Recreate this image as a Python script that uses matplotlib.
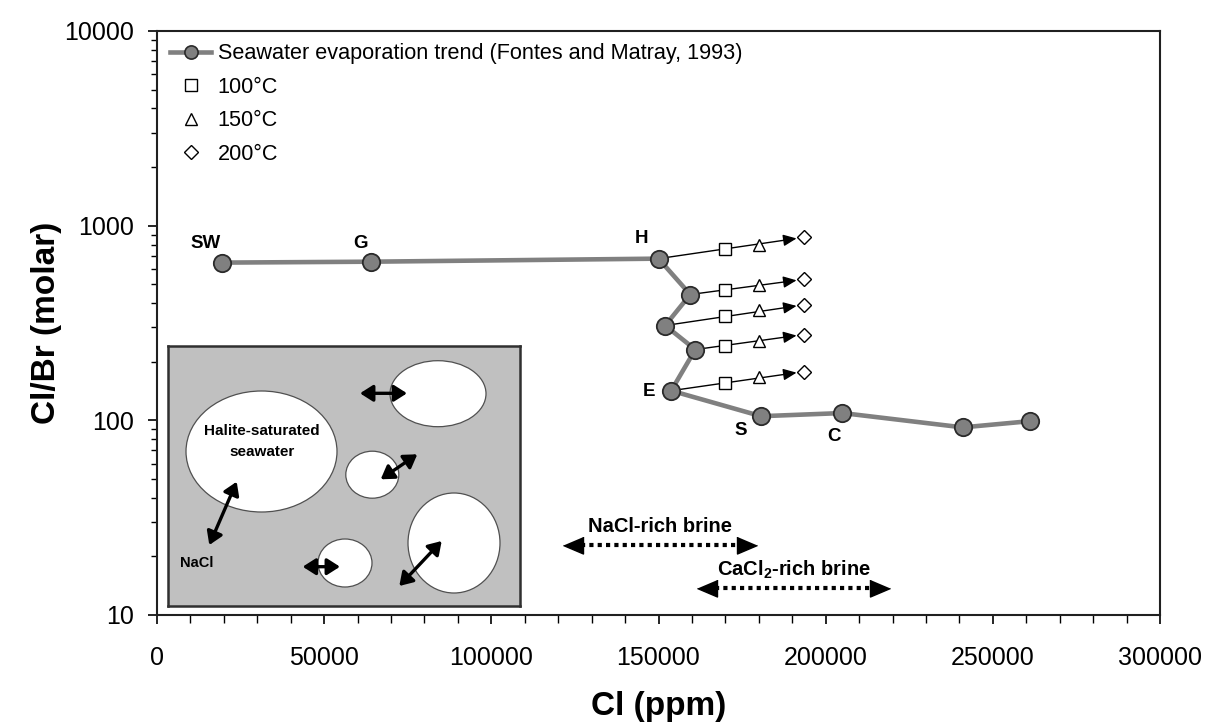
import numpy as np
import matplotlib
matplotlib.use("Agg")
import matplotlib.pyplot as plt
from matplotlib.patches import Ellipse
from matplotlib.lines import Line2D

plt.rcParams['font.family'] = ['Liberation Sans', 'DejaVu Sans']
plt.rcParams['mathtext.fontset'] = 'custom'
plt.rcParams['mathtext.rm'] = 'Liberation Sans'
plt.rcParams['mathtext.bf'] = 'Liberation Sans:bold'

# seawater evaporation trend (Fontes and Matray, 1993)
sw_cl = [19400, 64000, 150000, 159500, 152000, 161000, 153800, 180700, 205000, 241000, 261000]
sw_clbr = [646, 653, 677, 443, 307, 231, 142, 105, 109, 92, 99]
sw_label = "Seawater evaporation trend (Fontes and Matray, 1993)"

# stage labels and where they sit
stage_names = ["SW", "G", "H", "E", "S", "C"]
stage_cl = [14400, 61000, 145000, 147200, 174700, 202500]
stage_clbr = [809, 809, 857, 140, 89, 83]

# temperature-corrected ratios, starting from trend points 2..6
start_idx = [2, 3, 4, 5, 6]
temp_labels = ["100°C", "150°C", "200°C"]
temp_markers = ["s", "^", "D"]
temp_cl = [170000, 180000, 193500]
t100 = [759, 468, 345, 242, 156]
t150 = [800, 497, 367, 257, 167]
t200 = [871, 530, 392, 276, 178]
arrow_tip_cl = 191300

# brine ranges (dotted double arrows)
brine_names = ["NaCl-rich brine", r"CaCl$_\mathbf{2}$-rich brine"]
brine_lo = [121400, 161500]
brine_hi = [179500, 219300]
brine_clbr = [22.9, 13.75]
brine_text_clbr = [28.6, 17.0]

# inset sketch (local pixel units, origin top-left)
bub_x = [93.5, 270, 204.3, 286, 177]
bub_y = [105.5, 47.7, 128.7, 197, 217]
bub_w = [151, 96, 53, 92, 54]
bub_h = [121, 66, 47, 100, 48]
arr_x0 = [192, 212.7, 41.3, 134.7, 231.3]
arr_y0 = [47.3, 133.3, 199, 220.7, 240]
arr_x1 = [239, 249.3, 68.7, 172, 273.7]
arr_y1 = [47.3, 108.3, 135.7, 220.7, 195]

W, H = 1208, 724
fig = plt.figure(figsize=(W / 100, H / 100), dpi=100)
ax = fig.add_axes([157 / W, (H - 615) / H, 1003 / W, 584 / H])

ax.plot(sw_cl, sw_clbr, color="#808080", lw=3.3, marker="o", ms=12.5,
        mfc="#808080", mec="#2a2a2a", mew=1.3, zorder=5)

temps = [t100, t150, t200]
for i, k in enumerate(start_idx):
    x0, y0 = sw_cl[k], sw_clbr[k]
    x1, y1 = temp_cl[-1], t200[i]
    frac = (arrow_tip_cl - x0) / (x1 - x0)
    ytip = 10 ** (np.log10(y0) + frac * (np.log10(y1) - np.log10(y0)))
    ax.annotate("", xy=(arrow_tip_cl, ytip), xytext=(x0, y0),
                arrowprops=dict(arrowstyle="-|>,head_length=0.8,head_width=0.35",
                                color="black", lw=1.0, mutation_scale=10,
                                shrinkA=0, shrinkB=0), zorder=3)

handles = [Line2D([], [], color="#808080", lw=3.3, marker="o", ms=9.5,
                  mfc="#808080", mec="#2a2a2a", mew=1.2)]
for lab, m, xc, vals in zip(temp_labels, temp_markers, temp_cl, temps):
    ms = 7 if m == "D" else 8.5
    h, = ax.plot([xc] * len(vals), vals, ls="none", marker=m, ms=ms, mfc="white",
                 mec="black", mew=1.0, zorder=6)
    handles.append(h)

for name, xc, yc in zip(stage_names, stage_cl, stage_clbr):
    ax.text(xc, yc, name, fontsize=13.5, fontweight="bold", ha="center", va="center")

head = [(-1, 0), (1, -0.85), (1, 0.85)]
head_r = [(1, 0), (-1, -0.85), (-1, 0.85)]
for name, lo, hi, yv, ty in zip(brine_names, brine_lo, brine_hi, brine_clbr, brine_text_clbr):
    ax.plot([lo + 5500, hi - 5500], [yv, yv], color="black", lw=3.0, ls=(0, (1, 1)),
            solid_capstyle="butt", dash_capstyle="butt")
    ax.plot([lo + 3000], [yv], marker=head, ms=14.4, color="black", ls="none")
    ax.plot([hi - 3000], [yv], marker=head_r, ms=14.4, color="black", ls="none")
    ax.text((lo + hi) / 2, ty, name, fontsize=14.5, fontweight="bold",
            ha="center", va="center")

ax.set_yscale("log")
ax.set_xlim(0, 300000)
ax.set_ylim(10, 10000)
ax.set_xticks(np.arange(0, 300001, 50000))
ax.set_xticks(np.arange(0, 300001, 10000), minor=True)
ax.set_xticklabels([str(v) for v in range(0, 300001, 50000)])
ax.set_yticks([10, 100, 1000, 10000])
ax.set_yticklabels(["10", "100", "1000", "10000"])
ax.tick_params(axis="both", which="major", direction="out", length=6.5, width=1.2,
               labelsize=18)
ax.tick_params(axis="x", which="minor", direction="out", length=5.5, width=1.0)
ax.tick_params(axis="y", which="minor", direction="out", length=4, width=1.0)
ax.tick_params(axis="x", which="major", pad=15.5)
ax.tick_params(axis="y", which="major", pad=10)
for s in ax.spines.values():
    s.set_linewidth(1.5)
    s.set_color("#202020")

ax.set_xlabel("Cl (ppm)", fontsize=24, fontweight="bold")
ax.set_ylabel("Cl/Br (molar)", fontsize=24, fontweight="bold")
ax.xaxis.set_label_coords(0.5, -0.130)
ax.yaxis.set_label_coords(-0.095, 0.5)

ax.legend(handles, [sw_label] + temp_labels, loc="upper left",
          bbox_to_anchor=(0.013, 0.979), frameon=False,
          fontsize=15.6, borderaxespad=0, borderpad=0, handlelength=1.9,
          handletextpad=0.3, labelspacing=0.58)

# inset sketch
ins = fig.add_axes([168 / W, (H - 606) / H, 352 / W, 260 / H])
ins.set_xlim(0, 352)
ins.set_ylim(260, 0)
ins.set_facecolor("#c0c0c0")
ins.set_xticks([])
ins.set_yticks([])
for s in ins.spines.values():
    s.set_linewidth(1.8)
    s.set_color("#303030")
for cx, cy, w, h in zip(bub_x, bub_y, bub_w, bub_h):
    ins.add_patch(Ellipse((cx, cy), w, h, facecolor="white", edgecolor="#505050", lw=0.9))
for xa, ya, xb, yb in zip(arr_x0, arr_y0, arr_x1, arr_y1):
    ins.annotate("", xy=(xb, yb), xytext=(xa, ya),
                 arrowprops=dict(arrowstyle="<|-|>,head_length=0.55,head_width=0.35",
                                 color="black", lw=2.4, mutation_scale=14,
                                 shrinkA=0, shrinkB=0))
ins.text(93.7, 95.7, "Halite-saturated\nseawater", fontsize=11, fontweight="bold",
         ha="center", va="center", linespacing=1.6)
ins.text(28.7, 217, "NaCl", fontsize=10.5, fontweight="bold", ha="center", va="center")

fig.savefig("out.png", dpi=100)
